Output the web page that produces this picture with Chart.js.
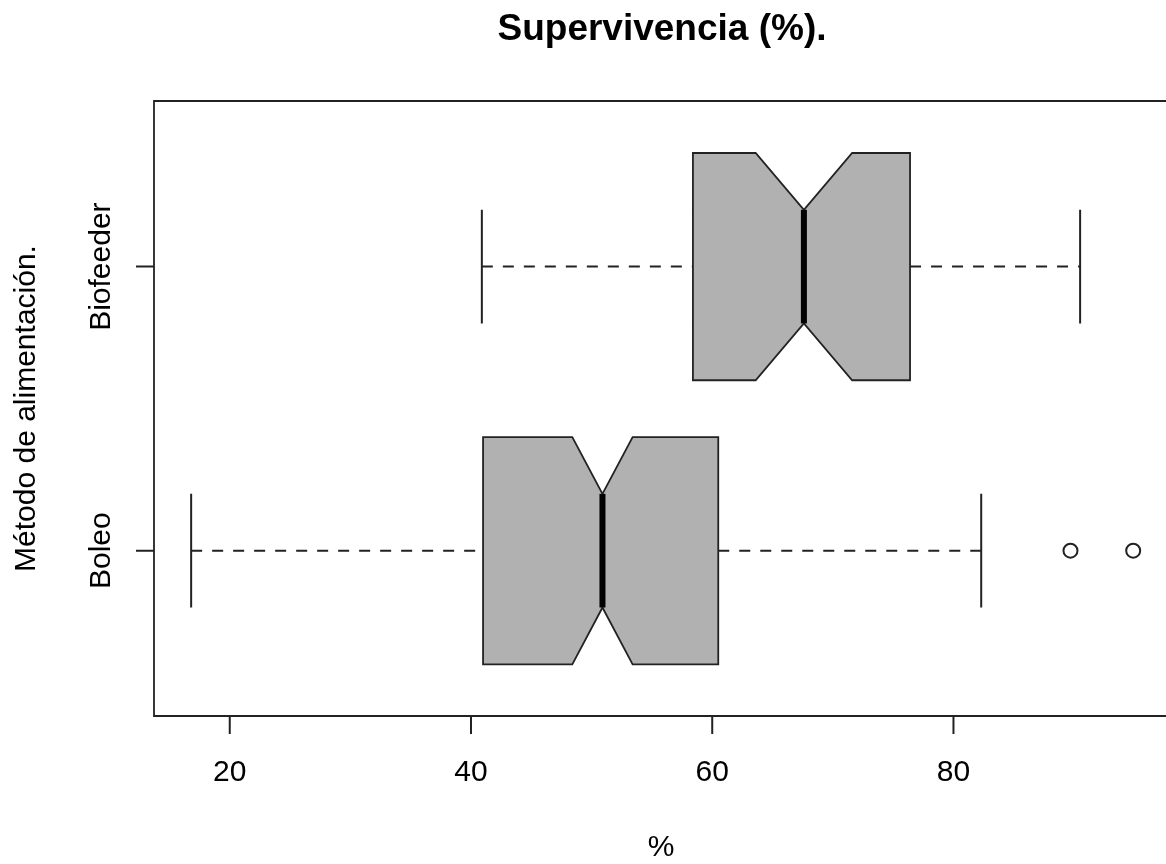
<!DOCTYPE html>
<html>
<head>
<meta charset="utf-8">
<script src="https://cdn.jsdelivr.net/npm/chart.js@4/dist/chart.umd.min.js"></script>
<style>
  html, body { margin: 0; padding: 0; background: #fff; }
  #wrap { width: 1166px; height: 864px; }
</style>
</head>
<body>
<div id="wrap"><canvas id="boxChart"></canvas></div>
<script>
// groups, bottom to top (y = 1, 2)
const groups = ['Boleo', 'Biofeeder'];
const groupPos = [1, 2];

// box statistics
const whiskerLow  = [16.8, 40.9];
const q1          = [41.0, 58.4];
const notchLow    = [48.4, 63.6];
const median      = [50.9, 67.6];
const notchHigh   = [53.4, 71.6];
const q3          = [60.5, 76.4];
const whiskerHigh = [82.3, 90.5];

// outliers
const outlierGroup = [1, 1];
const outlierValue = [89.7, 94.9];

const xTicks = [20, 40, 60, 80];

const FONT = '"Liberation Sans", Arial, Helvetica, sans-serif';
const lineCol = '#222';

const boxPlugin = {
    id: 'boxPlugin',
    beforeDatasetsDraw(chart) {
        const ctx = chart.ctx;
        const xs = chart.scales.x;
        const ys = chart.scales.y;
        ctx.save();
        groups.forEach((g, i) => {
            const yc = ys.getPixelForValue(groupPos[i]);
            const yTop = ys.getPixelForValue(groupPos[i] + 0.4);
            const yBot = ys.getPixelForValue(groupPos[i] - 0.4);
            const yNT = ys.getPixelForValue(groupPos[i] + 0.2);
            const yNB = ys.getPixelForValue(groupPos[i] - 0.2);
            const px = v => xs.getPixelForValue(v);

            // whiskers (dashed)
            ctx.strokeStyle = lineCol;
            ctx.lineWidth = 2;
            ctx.setLineDash([11, 10]);
            ctx.beginPath();
            ctx.moveTo(px(whiskerLow[i]), yc);
            ctx.lineTo(px(q1[i]), yc);
            ctx.moveTo(px(q3[i]), yc);
            ctx.lineTo(px(whiskerHigh[i]), yc);
            ctx.stroke();
            ctx.setLineDash([]);

            // staples
            ctx.beginPath();
            ctx.moveTo(px(whiskerLow[i]), yNT);
            ctx.lineTo(px(whiskerLow[i]), yNB);
            ctx.moveTo(px(whiskerHigh[i]), yNT);
            ctx.lineTo(px(whiskerHigh[i]), yNB);
            ctx.stroke();

            // notched box
            ctx.beginPath();
            ctx.moveTo(px(q1[i]), yTop);
            ctx.lineTo(px(notchLow[i]), yTop);
            ctx.lineTo(px(median[i]), yNT);
            ctx.lineTo(px(notchHigh[i]), yTop);
            ctx.lineTo(px(q3[i]), yTop);
            ctx.lineTo(px(q3[i]), yBot);
            ctx.lineTo(px(notchHigh[i]), yBot);
            ctx.lineTo(px(median[i]), yNB);
            ctx.lineTo(px(notchLow[i]), yBot);
            ctx.lineTo(px(q1[i]), yBot);
            ctx.closePath();
            ctx.fillStyle = '#b1b1b1';
            ctx.fill();
            ctx.lineWidth = 1.8;
            ctx.lineJoin = 'miter';
            ctx.stroke();

            // median
            ctx.strokeStyle = '#000';
            ctx.lineWidth = 6;
            ctx.beginPath();
            ctx.moveTo(px(median[i]), yNT);
            ctx.lineTo(px(median[i]), yNB);
            ctx.stroke();
        });
        ctx.restore();
    },
    afterDraw(chart) {
        const ctx = chart.ctx;
        const xs = chart.scales.x;
        const ys = chart.scales.y;
        const a = chart.chartArea;
        ctx.save();

        // frame (right side falls just outside the picture)
        ctx.strokeStyle = lineCol;
        ctx.lineWidth = 1.8;
        ctx.beginPath();
        ctx.moveTo(a.right + 2, a.top);
        ctx.lineTo(a.left, a.top);
        ctx.lineTo(a.left, a.bottom);
        ctx.lineTo(a.right + 2, a.bottom);
        ctx.stroke();

        // x axis
        ctx.lineWidth = 2;
        ctx.beginPath();
        ctx.moveTo(xs.getPixelForValue(xTicks[0]), a.bottom);
        ctx.lineTo(xs.getPixelForValue(xTicks[xTicks.length - 1]), a.bottom);
        xTicks.forEach(t => {
            const x = xs.getPixelForValue(t);
            ctx.moveTo(x, a.bottom);
            ctx.lineTo(x, a.bottom + 18);
        });
        ctx.stroke();
        ctx.fillStyle = '#000';
        ctx.font = '30px ' + FONT;
        ctx.textAlign = 'center';
        ctx.textBaseline = 'alphabetic';
        xTicks.forEach(t => {
            ctx.fillText(String(t), xs.getPixelForValue(t), a.bottom + 65);
        });

        // y axis ticks + labels
        ctx.beginPath();
        groupPos.forEach(p => {
            const y = ys.getPixelForValue(p);
            ctx.moveTo(a.left, y);
            ctx.lineTo(a.left - 18, y);
        });
        ctx.stroke();
        groups.forEach((g, i) => {
            ctx.save();
            ctx.translate(a.left - 44, ys.getPixelForValue(groupPos[i]));
            ctx.rotate(-Math.PI / 2);
            ctx.fillText(g, 0, 0);
            ctx.restore();
        });

        // axis titles
        const cx = (a.left + a.right) / 2;
        ctx.fillText('%', cx + 1, 856);
        ctx.save();
        ctx.translate(35, (a.top + a.bottom) / 2);
        ctx.rotate(-Math.PI / 2);
        ctx.fillText('Método de alimentación.', 0, 0);
        ctx.restore();

        // main title
        ctx.font = 'bold 37px ' + FONT;
        ctx.fillText('Supervivencia (%).', cx + 2, 40);
        ctx.restore();
    }
};

const ctx = document.getElementById('boxChart');
new Chart(ctx, {
    type: 'scatter',
    data: {
        datasets: [{
            label: 'outliers',
            data: outlierValue.map((v, i) => ({ x: v, y: outlierGroup[i] })),
            pointStyle: 'circle',
            pointRadius: 7,
            pointBorderWidth: 2,
            pointBorderColor: lineCol,
            pointBackgroundColor: 'rgba(0,0,0,0)',
        }]
    },
    options: {
        responsive: true,
        maintainAspectRatio: false,
        animation: false,
        events: [],
        layout: { autoPadding: false, padding: { left: 154, top: 101, right: 0, bottom: 148 } },
        scales: {
            x: { type: 'linear', min: 13.72, max: 97.62, display: false },
            y: { type: 'linear', min: 0.418, max: 2.583, display: false }
        },
        plugins: {
            legend: { display: false },
            title: { display: false },
            tooltip: { enabled: false }
        }
    },
    plugins: [boxPlugin]
});
</script>
</body>
</html>
